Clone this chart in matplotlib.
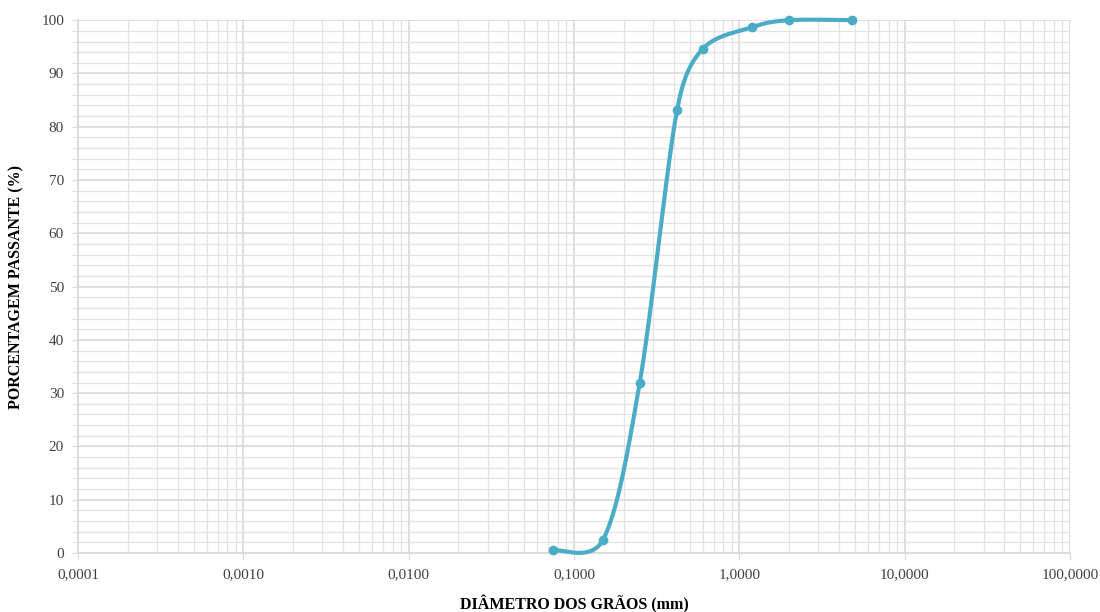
import numpy as np
import matplotlib
matplotlib.use("Agg")
import matplotlib.pyplot as plt
from matplotlib.ticker import FixedLocator, FuncFormatter, NullFormatter

diam_mm = [0.075, 0.15, 0.25, 0.42, 0.6, 1.2, 2.0, 4.8]
passing_pct = [0.5, 2.5, 32.0, 83.1, 94.6, 98.7, 100.0, 100.0]

plt.rcParams['font.family'] = ['Liberation Serif', 'DejaVu Serif']

fig = plt.figure(figsize=(11, 6.12), dpi=100)
ax = fig.add_axes([0.0709, 0.0964, 0.9018, 0.8706])

# Excel-like smoothed line: Catmull-Rom Bezier in pixel-proportional space,
# control arms capped at half of the adjacent chord
sx, sy = 165.3, 5.33
P = np.column_stack([np.log10(diam_mm) * sx, np.array(passing_pct) * sy])
n = len(P)


def cap(v, lim):
    L = np.hypot(*v)
    return v * (lim / L) if L > lim else v


curve = []
t = np.linspace(0, 1, 50)
for i in range(n - 1):
    p0 = P[i - 1] if i > 0 else P[i]
    p1, p2 = P[i], P[i + 1]
    p3 = P[i + 2] if i + 2 < n else P[i + 1]
    chord = np.hypot(*(p2 - p1))
    c1 = p1 + cap((p2 - p0) / 6, 0.5 * chord)
    c2 = p2 - cap((p3 - p1) / 6, 0.5 * chord)
    seg = ((1 - t) ** 3)[:, None] * p1 + (3 * (1 - t) ** 2 * t)[:, None] * c1 \
        + (3 * (1 - t) * t ** 2)[:, None] * c2 + (t ** 3)[:, None] * p2
    curve.append(seg)
curve = np.vstack(curve)
cx = 10 ** (curve[:, 0] / sx)
cy = curve[:, 1] / sy

color = '#4BACC6'
ax.plot(cx, cy, color=color, lw=3.0, solid_capstyle='round', zorder=3, clip_on=False)
ax.plot(diam_mm, passing_pct, 'o', color=color, ms=6, zorder=4, clip_on=False)

ax.set_xscale('log')
ax.set_xlim(0.0001, 100)
ax.set_ylim(0, 100)

major_x = [0.0001, 0.001, 0.01, 0.1, 1, 10, 100]
ax.xaxis.set_major_locator(FixedLocator(major_x))
minor_x = [m * 10.0 ** e for e in range(-4, 2) for m in range(2, 10)]
ax.xaxis.set_minor_locator(FixedLocator(minor_x))
ax.xaxis.set_minor_formatter(NullFormatter())
ax.xaxis.set_major_formatter(FuncFormatter(lambda v, p: f"{v:.4f}".replace('.', ',')))

ax.yaxis.set_major_locator(FixedLocator(np.arange(0, 101, 10)))
ax.yaxis.set_minor_locator(FixedLocator(np.arange(0, 101, 2)))

ax.grid(which='major', color='#D9D9D9', lw=1.2)
ax.grid(which='minor', color='#E3E3E3', lw=0.9)
ax.set_axisbelow(True)

for s in ['top', 'right']:
    ax.spines[s].set_visible(False)
ax.spines['left'].set_color('#D9D9D9')
ax.spines['bottom'].set_color('#D9D9D9')
ax.spines['left'].set_linewidth(1.2)
ax.spines['bottom'].set_linewidth(1.2)

ax.tick_params(axis='x', which='major', length=5, color='#D9D9D9', labelsize=11, labelcolor='#404040', pad=6)
ax.tick_params(axis='x', which='minor', length=0)
ax.tick_params(axis='y', which='both', length=4, color='#D9D9D9', labelsize=11, labelcolor='#404040', pad=6)

ax.set_xlabel('DIÂMETRO DOS GRÃOS (mm)', fontsize=11.5, fontweight='bold', labelpad=10)
ax.set_ylabel('PORCENTAGEM PASSANTE (%)', fontsize=11.5, fontweight='bold', labelpad=12)

fig.savefig('out.png', dpi=100, facecolor='white')
